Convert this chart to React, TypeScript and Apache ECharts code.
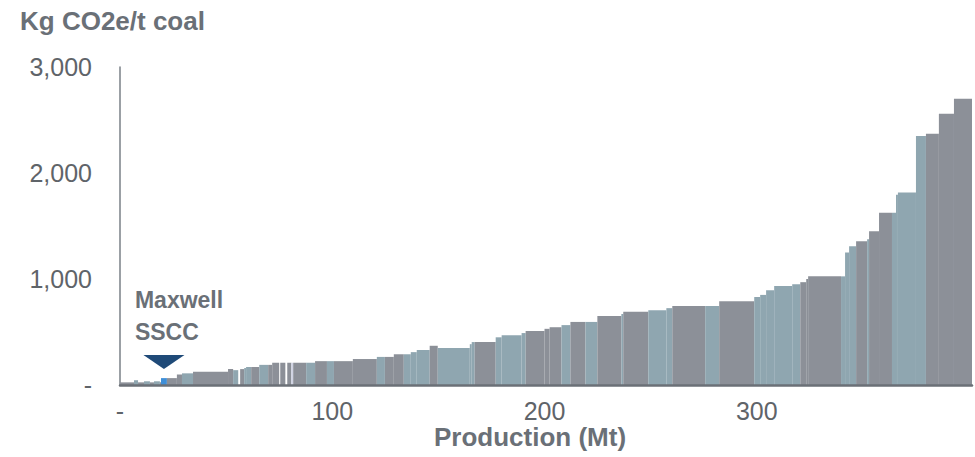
import { useEffect, useRef } from "react";
import * as echarts from "echarts";

// Mine-by-mine emissions intensity curve: each block is one operation,
// its width is annual production (Mt) and its height is Kg CO2e per tonne.
const production = [
  6.6, 1.9, 2.8, 2.8, 1.9, 2.8, 0.5, 2.8, 4.7, 2.4,
  5.2, 16.5, 2.4, 2.4, 0.9, 1.9, 0.9, 2.4, 3.8, 4.2,
  1.9, 3.3, 0.5, 2.4, 0.9, 1.9, 0.9, 6.1, 4.2, 5.6,
  3.3, 8.9, 11.3, 3.8, 4.2, 4.7, 3.3, 2.8, 6.1, 3.8,
  15.1, 0.9, 1.4, 9.9, 2.8, 9.4, 1.9, 8.9, 2.4, 5.6,
  4.2, 7.1, 5.6, 11.3, 0.9, 11.8, 8.5, 2.8, 15.5, 6.6,
  16.5, 2.8, 2.8, 3.8, 8.5, 3.8, 2.8, 0.9, 15.5, 1.9,
  1.9, 3.3, 5.2, 0.9, 4.7, 6.1, 1.9, 0.9, 8.5, 4.7,
  6.1, 7.1, 8.5,
];

const intensity = [
  25, 45, 25, 35, 25, 35, 25, 65, 65, 100,
  110, 125, 150, 140, 0, 150, 160, 170, 170, 190,
  190, 210, 0, 210, 0, 210, 210, 210, 210, 225,
  225, 225, 245, 265, 265, 290, 290, 310, 330, 370,
  350, 385, 405, 405, 450, 470, 490, 510, 530, 545,
  565, 595, 595, 650, 670, 690, 705, 725, 745, 745,
  790, 830, 850, 895, 935, 950, 970, 1000, 1025, 1025,
  1250, 1310, 1355, 1375, 1450, 1625, 1625, 1795, 1815, 2350,
  2370, 2560, 2700,
];

// g = peer mine, t = peer mine (alternate shade), l = light, w = blank, m = Maxwell
const group = [
  "g", "t", "g", "t", "g", "t", "g", "m", "g", "g",
  "t", "g", "g", "t", "w", "g", "t", "t", "g", "t",
  "g", "g", "w", "g", "w", "g", "l", "g", "t", "g",
  "t", "g", "g", "t", "g", "g", "t", "t", "t", "g",
  "t", "t", "t", "g", "t", "t", "t", "g", "g", "g",
  "t", "g", "t", "g", "t", "g", "t", "t", "g", "t",
  "g", "t", "t", "t", "t", "t", "g", "g", "g", "t",
  "t", "t", "g", "t", "g", "g", "t", "t", "t", "t",
  "g", "g", "g",
];

const yTicks = [0, 1000, 2000, 3000];
const xTicks = [0, 100, 200, 300];

const fillOf: Record<string, string> = {
  g: "#8c9098",
  t: "#8fa6b0",
  l: "#cfd2e3",
  w: "#ffffff",
  m: "#3f8fd8",
};

const FONT = "'Liberation Sans', Arial, sans-serif";
const TEXT_GREY = "#5f6469";
const TITLE_GREY = "#6a7077";

export default function App() {
  const ref = useRef<HTMLDivElement>(null);

  useEffect(() => {
    if (!ref.current) return;
    const chart = echarts.init(ref.current, null, { renderer: "svg" });

    let cursor = 0;
    const rows = production.map((w, i) => {
      const start = cursor;
      cursor += w;
      return [start, cursor, intensity[i], i];
    });
    const total = cursor;

    const renderItem = (_params: any, api: any) => {
      const x0 = api.value(0);
      const x1 = api.value(1);
      const v = api.value(2);
      const idx = api.value(3);
      const kind = group[idx];
      const topLeft = api.coord([x0, v]);
      const botRight = api.coord([x1, 0]);
      const rect = {
        type: "rect",
        shape: {
          x: topLeft[0],
          y: topLeft[1],
          width: botRight[0] - topLeft[0],
          height: botRight[1] - topLeft[1],
        },
        style: { fill: fillOf[kind] },
      };
      if (kind !== "m") return rect;
      const cx = (topLeft[0] + botRight[0]) / 2;
      const top = topLeft[1];
      return {
        type: "group",
        children: [
          rect,
          {
            type: "polygon",
            shape: {
              points: [
                [cx - 20.5, top - 23],
                [cx + 20.5, top - 23],
                [cx, top - 9],
              ],
            },
            style: { fill: "#1f4a78" },
          },
          {
            type: "text",
            x: cx - 29,
            y: top - 78,
            style: {
              text: "Maxwell",
              fill: TITLE_GREY,
              font: `bold 23px ${FONT}`,
              verticalAlign: "middle",
              align: "left",
            },
          },
          {
            type: "text",
            x: cx - 29,
            y: top - 46,
            style: {
              text: "SSCC",
              fill: TITLE_GREY,
              font: `bold 23px ${FONT}`,
              verticalAlign: "middle",
              align: "left",
            },
          },
        ],
      };
    };

    chart.setOption({
      animation: false,
      backgroundColor: "#ffffff",
      grid: { left: 120, right: 975 - 973, top: 67, bottom: 72, containLabel: false },
      xAxis: {
        type: "value",
        min: 0,
        max: total,
        interval: 100,
        z: 5,
        axisLine: { show: true, lineStyle: { color: "#6b7077", width: 2.5 } },
        axisTick: { show: false },
        splitLine: { show: false },
        axisLabel: {
          margin: 13,
          color: TEXT_GREY,
          fontFamily: FONT,
          fontSize: 25,
          formatter: (v: number) =>
            xTicks.includes(v) ? (v === 0 ? "-" : String(v)) : "",
        },
      },
      yAxis: {
        type: "value",
        min: 0,
        max: 3000,
        interval: 1000,
        axisLine: { show: true, lineStyle: { color: "#7a8087", width: 1.5 } },
        axisTick: { show: false },
        splitLine: { show: false },
        axisLabel: {
          margin: 28,
          color: TEXT_GREY,
          fontFamily: FONT,
          fontSize: 25,
          formatter: (v: number) =>
            yTicks.includes(v) ? (v === 0 ? "-" : v.toLocaleString("en-US")) : "",
        },
      },
      graphic: [
        {
          type: "text",
          left: 20,
          top: 8,
          style: {
            text: "Kg CO2e/t coal",
            fill: TITLE_GREY,
            font: `bold 26px ${FONT}`,
          },
        },
        {
          type: "text",
          x: 530,
          y: 437,
          style: {
            text: "Production (Mt)",
            fill: TITLE_GREY,
            font: `bold 26px ${FONT}`,
            align: "center",
            verticalAlign: "middle",
          },
        },
      ],
      series: [
        {
          type: "custom",
          renderItem,
          encode: { x: [0, 1], y: 2 },
          data: rows,
          z: 2,
        },
      ],
    });

    return () => chart.dispose();
  }, []);

  return (
    <div
      ref={ref}
      style={{ position: "fixed", left: 0, top: 0, width: 975, height: 457 }}
    />
  );
}
